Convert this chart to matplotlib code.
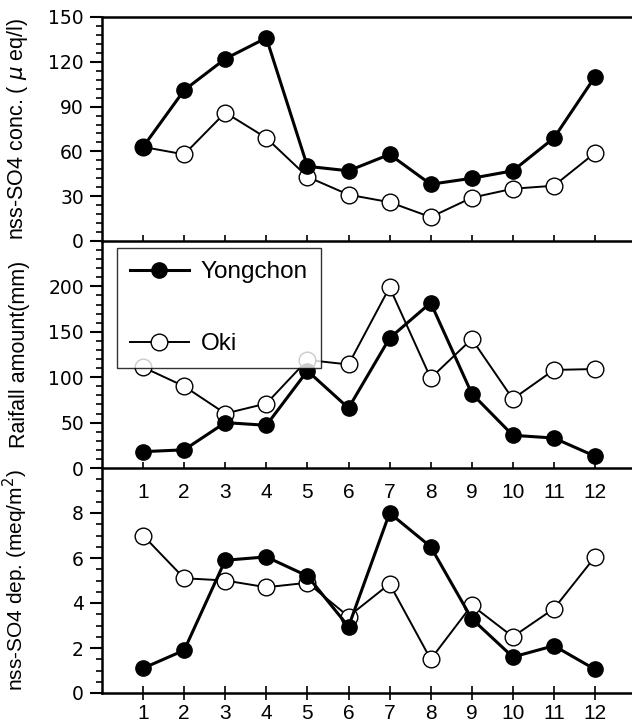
import numpy as np
import matplotlib.pyplot as plt
from matplotlib.ticker import MultipleLocator, FixedLocator
from matplotlib.lines import Line2D

plt.rcParams['font.family'] = ['Liberation Sans', 'DejaVu Sans']

months = np.arange(1, 13)

# nss-SO4 concentration (ueq/l)
conc_yongchon = [63, 101, 122, 136, 50, 47, 58, 38, 42, 47, 69, 110]
conc_oki = [63, 58, 86, 69, 43, 31, 26, 16, 29, 35, 37, 59]

# rainfall amount (mm)
rain_yongchon = [18, 20, 50, 47, 107, 66, 143, 182, 82, 36, 33, 13]
rain_oki = [111, 90, 60, 71, 119, 114, 199, 99, 142, 76, 108, 109]

# nss-SO4 deposition (meq/m2)
dep_yongchon = [1.1, 1.9, 5.9, 6.05, 5.2, 2.95, 8.0, 6.5, 3.3, 1.6, 2.1, 1.05]
dep_oki = [7.0, 5.1, 5.0, 4.7, 4.9, 3.4, 4.85, 1.5, 3.9, 2.5, 3.75, 6.05]

W, H = 632, 724
fig = plt.figure(figsize=(W / 100, H / 100), dpi=100)

left = 102 / W
width = 1 - left


def panel(y_top, y_bot):
    return fig.add_axes([left, 1 - y_bot / H, width, (y_bot - y_top) / H])


ax1 = panel(17, 241)
ax2 = panel(241, 468)
ax3 = panel(468, 693)

filled = dict(color='black', lw=2.2, marker='o', ms=11, mfc='black', mec='black', zorder=4)
hollow = dict(color='black', lw=1.4, marker='o', ms=12, mfc='white', mec='black', mew=1.0, zorder=3)


def style(ax, ymax, yticks, minor, top_spine=False):
    ax.set_xlim(0, 12.9)
    ax.set_ylim(0, ymax)
    ax.yaxis.set_major_locator(FixedLocator(yticks))
    ax.yaxis.set_minor_locator(MultipleLocator(minor))
    ax.spines['right'].set_visible(False)
    ax.spines['top'].set_visible(top_spine)
    for s in ['left', 'bottom', 'top']:
        ax.spines[s].set_linewidth(1.8)
    ax.tick_params(axis='y', which='major', direction='out', length=9, width=1.5, pad=4)
    ax.tick_params(axis='y', which='minor', direction='out', length=4.5, width=1.2)
    for lab in ax.get_yticklabels():
        lab.set_fontfamily('DejaVu Sans')
        lab.set_fontsize(13.5)
    ax.set_xticks(months)
    ax.patch.set_alpha(0)


# top panel: concentration
ax1.plot(months, conc_oki, **hollow)
ax1.plot(months, conc_yongchon, **filled)
style(ax1, 150, [0, 30, 60, 90, 120, 150], 6, top_spine=True)
ax1.tick_params(axis='x', direction='in', length=4, width=1.2, labelbottom=False)
ax1.set_ylabel('nss-SO4 conc. ( $\\mu$ eq/l)', fontsize=15.5)

# middle panel: rainfall
ax2.plot(months, rain_oki, **hollow)
ax2.plot(months, rain_yongchon, **filled)
style(ax2, 250, [0, 50, 100, 150, 200], 10)
ax2.tick_params(axis='x', direction='in', length=4, width=1.2, labelsize=15, pad=11)
ax2.set_ylabel('Raifall amount(mm)', fontsize=15.5)

# bottom panel: deposition
ax3.plot(months, dep_oki, **hollow)
ax3.plot(months, dep_yongchon, **filled)
style(ax3, 10, [0, 2, 4, 6, 8], 0.5)
ax3.tick_params(axis='x', direction='inout', length=10, width=1.2, labelsize=15, pad=3)
ax3.set_ylabel('nss-SO4 dep. (meq/m$^2$)', fontsize=15)

for ax in (ax1, ax2, ax3):
    ax.yaxis.set_label_coords(-(102 - 30) / (W - 102), 0.5)

handles = [Line2D([], [], **filled), Line2D([], [], **hollow)]
leg = ax2.legend(handles, ['Yongchon', 'Oki'], loc='upper left',
                 bbox_to_anchor=(0.028, 0.97), fontsize=17.5, frameon=True,
                 fancybox=False, edgecolor='black', handlelength=2.4,
                 handletextpad=0.5, labelspacing=2.05, borderpad=0.55,
                 borderaxespad=0)
leg.get_frame().set_linewidth(1.0)

fig.savefig('out.png', dpi=100)
